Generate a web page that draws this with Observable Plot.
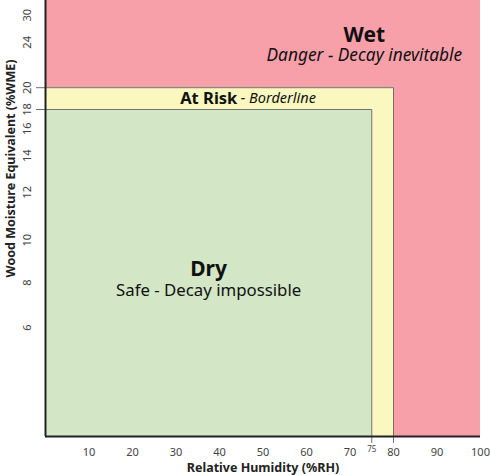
<!DOCTYPE html>
<html><head><meta charset="utf-8">
<script src="https://cdn.jsdelivr.net/npm/d3@7"></script>
<script src="https://cdn.jsdelivr.net/npm/@observablehq/plot@0.6"></script>
<style>
html,body{margin:0;padding:0;background:#fff;}
#chart svg{display:block;font-family:"Noto Sans",sans-serif;}
</style>
</head><body><div id="chart"></div>
<script>
// Zones: name, upper RH limit, upper WME limit, fill colour
const zoneNames = ["Wet", "At Risk", "Dry"];
const zoneRH = [100, 80, 75];
const zoneWME = [40, 20, 18];
const zoneFill = ["#f8a0aa", "#faf7bf", "#d3e6c6"];

// Tick labels
const xTicks = [10, 20, 30, 40, 50, 60, 70, 80, 90, 100];
const xMinorTick = [75];
const yTicks = [6, 8, 10, 12, 14, 16, 18, 20, 24, 30];

// WME axis is drawn on its RH-equivalent scale (piecewise)
const scaleWME = [0, 6, 8, 10, 12, 14, 16, 18, 20, 24, 30, 40];
const scaleRHEquiv = [0, 25, 35.3, 45, 56, 64.4, 70.6, 75, 80, 90.4, 96.6, 100];

const W = 490, H = 475;
const mL = 45, mR = 10, mT = 0, mB = 39;
const plotH = H - mT - mB;

const zones = zoneNames.map((name, i) => ({name, rh: zoneRH[i], wme: zoneWME[i], fill: zoneFill[i]}));
const bounds = zones.slice(1);
const edge = "#707070";

const chart = Plot.plot({
  width: W, height: H,
  marginLeft: mL, marginRight: mR, marginTop: mT, marginBottom: mB,
  style: {fontFamily: "'Noto Sans', sans-serif", background: "#fff"},
  x: {domain: [0, 100], axis: null},
  y: {type: "linear", domain: scaleWME, range: scaleRHEquiv.map(f => mT + plotH * (1 - f / 100)), axis: null},
  color: {type: "identity"},
  marks: [
    Plot.rect(zones, {x1: 0, x2: "rh", y1: 0, y2: "wme", fill: "fill"}),
    // zone boundaries (top and right edges)
    Plot.link(bounds, {x1: 0, x2: "rh", y1: "wme", y2: "wme", stroke: edge, strokeWidth: 1}),
    Plot.link(bounds, {x1: "rh", x2: "rh", y1: 0, y2: "wme", stroke: edge, strokeWidth: 1}),
    // boundary extensions outside the frame
    Plot.axisX(bounds.map(d => d.rh), {tickSize: 7, tickFormat: () => "", label: null, stroke: edge}),
    Plot.axisY(bounds.map(d => d.wme), {tickSize: 9, tickFormat: () => "", label: null, stroke: edge}),
    // axes lines
    Plot.ruleX([0], {stroke: "#222", strokeWidth: 2}),
    Plot.ruleY([0], {x1: 0, x2: 100, stroke: "#222", strokeWidth: 2}),
    // y tick labels
    Plot.text(yTicks, {y: d => d, text: d => String(d), frameAnchor: "left", textAnchor: "middle", lineAnchor: "middle", dx: -18, rotate: -90, fontSize: 11, fill: "#444"}),
    // x tick labels
    Plot.text(xTicks, {x: d => d, text: d => String(d), frameAnchor: "bottom", lineAnchor: "middle", dy: 16, fontSize: 11, fill: "#444"}),
    Plot.text(xMinorTick, {x: d => d, text: d => String(d), frameAnchor: "bottom", lineAnchor: "middle", dy: 13, fontSize: 8, fill: "#444"}),
    // axis titles
    Plot.text(["Relative Humidity (%RH)"], {frameAnchor: "bottom", lineAnchor: "middle", dy: 31, fontSize: 12.5, fontWeight: "bold", fill: "#222"}),
    Plot.text(["Wood Moisture Equivalent (%WME)"], {frameAnchor: "top-left", textAnchor: "middle", lineAnchor: "middle", dx: -35, dy: 168, rotate: -90, fontSize: 12.5, fontWeight: "bold", fill: "#222"}),
    // zone annotations
    Plot.text(["Wet"], {x: 73.3, frameAnchor: "top", lineAnchor: "middle", dy: 35, fontSize: 21, fontWeight: "bold", fill: "#111"}),
    Plot.text(["Danger - Decay inevitable"], {x: 73.3, frameAnchor: "top", lineAnchor: "middle", dy: 55, fontSize: 17.3, fontStyle: "italic", fill: "#111"}),
    Plot.text(["At Risk"], {x: 44.1, y: 19, textAnchor: "end", fontSize: 16.5, fontWeight: "bold", fill: "#111"}),
    Plot.text(["- Borderline"], {x: 44.9, y: 19, textAnchor: "start", fontSize: 14.5, fontStyle: "italic", fill: "#111"}),
    Plot.text(["Dry"], {x: 37.5, frameAnchor: "top", lineAnchor: "middle", dy: 269, fontSize: 21, fontWeight: "bold", fill: "#111"}),
    Plot.text(["Safe - Decay impossible"], {x: 37.5, frameAnchor: "top", lineAnchor: "middle", dy: 290, fontSize: 16.8, fill: "#111"})
  ]
});
document.getElementById("chart").appendChild(chart);
</script>
</body></html>
